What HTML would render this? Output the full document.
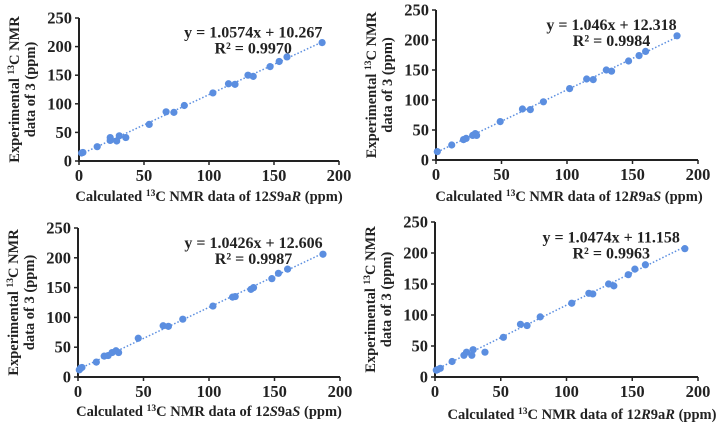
<!DOCTYPE html>
<html><head><meta charset="utf-8"><style>
html,body{margin:0;padding:0;background:#fff;}
svg{display:block;}
text{font-family:"Liberation Serif",serif;font-weight:bold;fill:#222;}
</style></head><body>
<svg id="chart" width="721" height="427" xmlns="http://www.w3.org/2000/svg"></svg>
<script>
const xTicks = [0, 50, 100, 150, 200];
const yTicks = [0, 50, 100, 150, 200, 250];
const p1x = [2,3,14,24,24,29,31,36,54,67,73,81,103,115,120,130,134,147,154,160,187];
const p1y = [14,15,25,36,41,35,44,41,64,86,85,97,119,135,134,150,148,165,174,182,207];
const p2x = [1,12,21,23,28,30,31,49,66,72,82,102,115,120,130,134,147,155,160,184];
const p2y = [14,25,34,36,41,44,41,64,85,84,97,119,135,134,150,148,165,174,181,207];
const p3x = [1,2,3,14,20,23,26,29,31,46,65,69,80,103,118,120,132,134,148,153,160,187];
const p3y = [12,15,16,25,35,36,41,44,41,65,86,85,97,119,134,135,147,150,165,174,181,206];
const p4x = [1,2,4,13,22,24,28,29,38,52,65,70,80,104,117,120,132,136,147,152,160,190];
const p4y = [11,12,14,25,35,40,35,44,40,64,85,83,97,119,135,134,150,147,165,174,181,207];
const slopes = [1.0574, 1.046, 1.0426, 1.0474];
const intercepts = [10.267, 12.318, 12.606, 11.158];
const eqLabels = ["y = 1.0574x + 10.267","y = 1.046x + 12.318","y = 1.0426x + 12.606","y = 1.0474x + 11.158"];
const r2Labels = ["R² = 0.9970","R² = 0.9984","R² = 0.9987","R² = 0.9963"];

const panels = [
 {name:'12S9aR', xs:p1x, ys:p1y, x0:79, x1:339, y0:161, y1:18, title:['12','S','9a','R'], tx:209, ty:201},
 {name:'12R9aS', xs:p2x, ys:p2y, x0:436, x1:698, y0:160, y1:10, title:['12','R','9a','S'], tx:569, ty:201},
 {name:'12S9aS', xs:p3x, ys:p3y, x0:78, x1:340, y0:377, y1:228, title:['12','S','9a','S'], tx:209, ty:416},
 {name:'12R9aR', xs:p4x, ys:p4y, x0:435, x1:698, y0:377, y1:222, title:['12','R','9a','R'], tx:582, ty:419},
];
const NS='http://www.w3.org/2000/svg';
const svg=document.getElementById('chart');
function mk(tag, attrs, parent){const e=document.createElementNS(NS,tag);for(const k in attrs)e.setAttribute(k,attrs[k]);(parent||svg).appendChild(e);return e;}

panels.forEach((p,i)=>{
  const g=mk('g',{});
  
  
  const sx=v=>p.x0+(v/200)*(p.x1-p.x0);
  const sy=v=>p.y0-(v/250)*(p.y0-p.y1);
  yTicks.forEach(t=>{
    const y=sy(t);
    const l=mk('line',{x1:p.x0-4,x2:p.x0,y1:y,y2:y,stroke:'#222','stroke-width':1.5},g);
    
    
    const tx=mk('text',{x:p.x0-7,y:y+5.5,'text-anchor':'end','font-size':16.5},g);
    tx.textContent=t;
    
    
  });
  xTicks.forEach(t=>{
    const x=sx(t);
    const l=mk('line',{x1:x,x2:x,y1:p.y0,y2:p.y0+4,stroke:'#222','stroke-width':1.5},g);
    
    
    const tx=mk('text',{x:x,y:p.y0+20,'text-anchor':'middle','font-size':16.5},g);
    tx.textContent=t;
    
    
  });
  const ax=mk('path',{d:`M${p.x0},${p.y1} V${p.y0} H${p.x1}`,fill:'none',stroke:'#222','stroke-width':2},g);
  
  
  const xmin=Math.min(...p.xs), xmax=Math.max(...p.xs);
  const tl=mk('line',{x1:sx(xmin),y1:sy(slopes[i]*xmin+intercepts[i]),x2:sx(xmax),y2:sy(slopes[i]*xmax+intercepts[i]),stroke:'#5b8ee0','stroke-width':1.5,'stroke-dasharray':'1.5,2'},g);
  
  
  p.xs.forEach((v,j)=>{
    const c=mk('circle',{cx:sx(v),cy:sy(p.ys[j]),r:3.6,fill:'#5b8ee0'},g);
    
    
  });
  const ex=p.x0+(p.x1-p.x0)*0.67;
  const e1=mk('text',{x:ex,y:p.y1+(p.y0-p.y1)*0.1+5,'text-anchor':'middle','font-size':16},g);
  e1.textContent=eqLabels[i];
  
  
  const e2=mk('text',{x:ex,y:p.y1+(p.y0-p.y1)*0.1+21,'text-anchor':'middle','font-size':16},g);
  e2.textContent=r2Labels[i];
  
  
  const cy=(p.y0+p.y1)/2;
  const yt=mk('text',{transform:`translate(${p.x0-60},${cy}) rotate(-90)`,'text-anchor':'middle','font-size':14.5},g);
  yt.innerHTML='Experimental <tspan font-size="9.5" dy="-5">13</tspan><tspan dy="5">C NMR</tspan>';
  
  
  const yt2=mk('text',{transform:`translate(${p.x0-44},${cy}) rotate(-90)`,'text-anchor':'middle','font-size':14.5},g);
  yt2.textContent='data of 3 (ppm)';
  
  
  const xt=mk('text',{x:p.tx,y:p.ty,'text-anchor':'middle','font-size':14.5},g);
  const T=p.title;
  xt.innerHTML=`Calculated <tspan font-size="9.5" dy="-5">13</tspan><tspan dy="5">C NMR data of ${T[0]}</tspan><tspan font-style="italic">${T[1]}</tspan>${T[2]}<tspan font-style="italic">${T[3]}</tspan> (ppm)`;
  
  
});
</script>
</body></html>
